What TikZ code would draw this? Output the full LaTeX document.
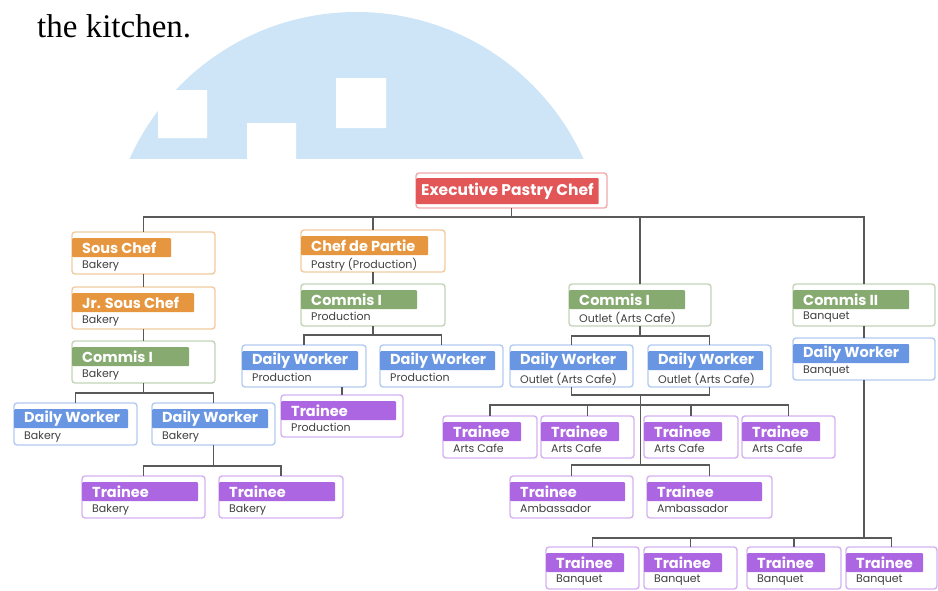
\documentclass[tikz,border=0pt]{standalone}
\usepackage{fontspec}
\setmainfont{Liberation Serif}
\newfontfamily\chartfont{Poppins}
\usetikzlibrary{positioning,calc}
\definecolor{wmblue}{RGB}{205,229,247}
\definecolor{chred}{RGB}{226,86,88}
\definecolor{chorange}{RGB}{230,150,62}
\definecolor{chgreen}{RGB}{134,170,112}
\definecolor{chblue}{RGB}{104,150,226}
\definecolor{chpurple}{RGB}{172,102,226}
\begin{document}
\begin{tikzpicture}[x=1pt,y=-1pt,
	card/.style={draw=#1!50, line width=1.4pt, rounded corners=3pt, fill=white, minimum height=42pt, inner sep=0pt, outer sep=0pt, anchor=north west},
	head/.style={fill=#1, text=white, font=\chartfont\bfseries\fontsize{14.5}{14.5}\selectfont, inner xsep=10pt, inner ysep=0pt, minimum height=19pt, rounded corners=1pt},
	sub/.style={font=\chartfont\fontsize{11}{11}\selectfont, text=black!75, inner sep=0pt},
	link/.style={draw=black!65, line width=1.3pt}]
	\useasboundingbox (0,0) rectangle (938,590);
	% page text and watermark
	\node[anchor=base west, inner sep=0pt, font=\fontsize{33}{33}\selectfont] (line) at (37,37) {the kitchen.};
	\begin{scope}
		\clip (0,0) rectangle (938,158);
		\fill[wmblue] (356.5,260.7) circle (248.7);
		\fill[white] (158,90) rectangle (207,138) (247,123) rectangle (296,160) (336,78) rectangle (386,128);
	\end{scope}
	% chart
	\node[card=chred, minimum width=191pt, minimum height=35pt] (exec) at (416,173) {};
	\node[head=chred, font=\chartfont\bfseries\fontsize{15.5}{15.5}\selectfont, inner xsep=5pt, minimum height=26pt, below right=5pt and 0pt of exec.north west] (exec-h) {Executive Pastry Chef};
	\foreach \n/\x/\y/\w/\b/\c/\t/\s in {
		sous/72/232/143/79/chorange/Sous Chef/Bakery,
		jrsous/72/287/143/102/chorange/Jr. Sous Chef/Bakery,
		comB/72/341/143/97/chgreen/Commis I/Bakery,
		dwB1/14/403/123/94/chblue/Daily Worker/Bakery,
		dwB2/152/403/123/96/chblue/Daily Worker/Bakery,
		trB1/82/476/123/96/chpurple/Trainee/Bakery,
		trB2/219/476/124/96/chpurple/Trainee/Bakery,
		cdp/301/230/144/107/chorange/Chef de Partie/{Pastry (Production)},
		comP/301/284/144/96/chgreen/Commis I/Production,
		dwP1/242/345/124/96/chblue/Daily Worker/Production,
		dwP2/380/345/123/95/chblue/Daily Worker/Production,
		trP/281/395/122/95/chpurple/Trainee/Production,
		comO/569/284/142/96/chgreen/Commis I/{Outlet (Arts Cafe)},
		dwO1/510/345/123/97/chblue/Daily Worker/{Outlet (Arts Cafe)},
		dwO2/648/345/123/95/chblue/Daily Worker/{Outlet (Arts Cafe)},
		trA1/443/416/94/58/chpurple/Trainee/Arts Cafe,
		trA2/541/416/93/58/chpurple/Trainee/Arts Cafe,
		trA3/644/416/94/58/chpurple/Trainee/Arts Cafe,
		trA4/742/416/93/58/chpurple/Trainee/Arts Cafe,
		trM1/510/476/123/95/chpurple/Trainee/Ambassador,
		trM2/647/476/125/95/chpurple/Trainee/Ambassador,
		comII/793/284/142/96/chgreen/Commis II/Banquet,
		dwQ/793/338/142/96/chblue/Daily Worker/Banquet,
		trQ1/546/547/93/58/chpurple/Trainee/Banquet,
		trQ2/644/547/93/58/chpurple/Trainee/Banquet,
		trQ3/747/547/94/58/chpurple/Trainee/Banquet,
		trQ4/846/547/91/57/chpurple/Trainee/Banquet}{
		\node[card=\c, minimum width=\w pt] (\n) at (\x,\y) {};
		\node[head=\c, below right=6pt and 0pt of \n.north west] (\n-h) {\makebox[\b pt][l]{\t}};
		\node[sub, below right=2.5pt and 10pt of \n-h.south west] (\n-s) {\s};
	}
	% connectors
	\coordinate (bus) at (0,217);
	\draw[link] (exec.south) -- (exec.south |- bus);
	\draw[link] (sous.north) |- (comII.north |- bus) -- (comII.north);
	\draw[link] (cdp.north) -- (cdp.north |- bus);
	\draw[link] (comO.north) -- (comO.north |- bus);
	\foreach \p/\c in {sous/jrsous, jrsous/comB, cdp/comP, comII/dwQ}
		\draw[link] (\p.south) -- (\c.north);
	\foreach \p/\c/\d in {comB/dwB1/10, comB/dwB2/10, dwB2/trB1/21, dwB2/trB2/21,
		comP/dwP1/9, comP/dwP2/9, comO/dwO1/10, comO/dwO2/10,
		dwQ/trQ1/158, dwQ/trQ2/158, dwQ/trQ3/158, dwQ/trQ4/158}
		\draw[link] (\p.south) -- ++(0,\d) -| (\c.north);
	\draw[link] (trP.north) -- (trP.north |- dwP1.south);
	\draw[link] (dwO1.south) -- ++(0,8) -| (dwO2.south);
	\coordinate (hub) at ($(dwO1.south)!.5!(dwO2.south)+(0,8)$);
	\foreach \c in {trA1,trA2,trA3,trA4}
		\draw[link] (hub) -- ++(0,10) -| (\c.north);
	\foreach \c in {trM1,trM2}
		\draw[link] (hub) -- ++(0,70) -| (\c.north);
\end{tikzpicture}
\end{document}
